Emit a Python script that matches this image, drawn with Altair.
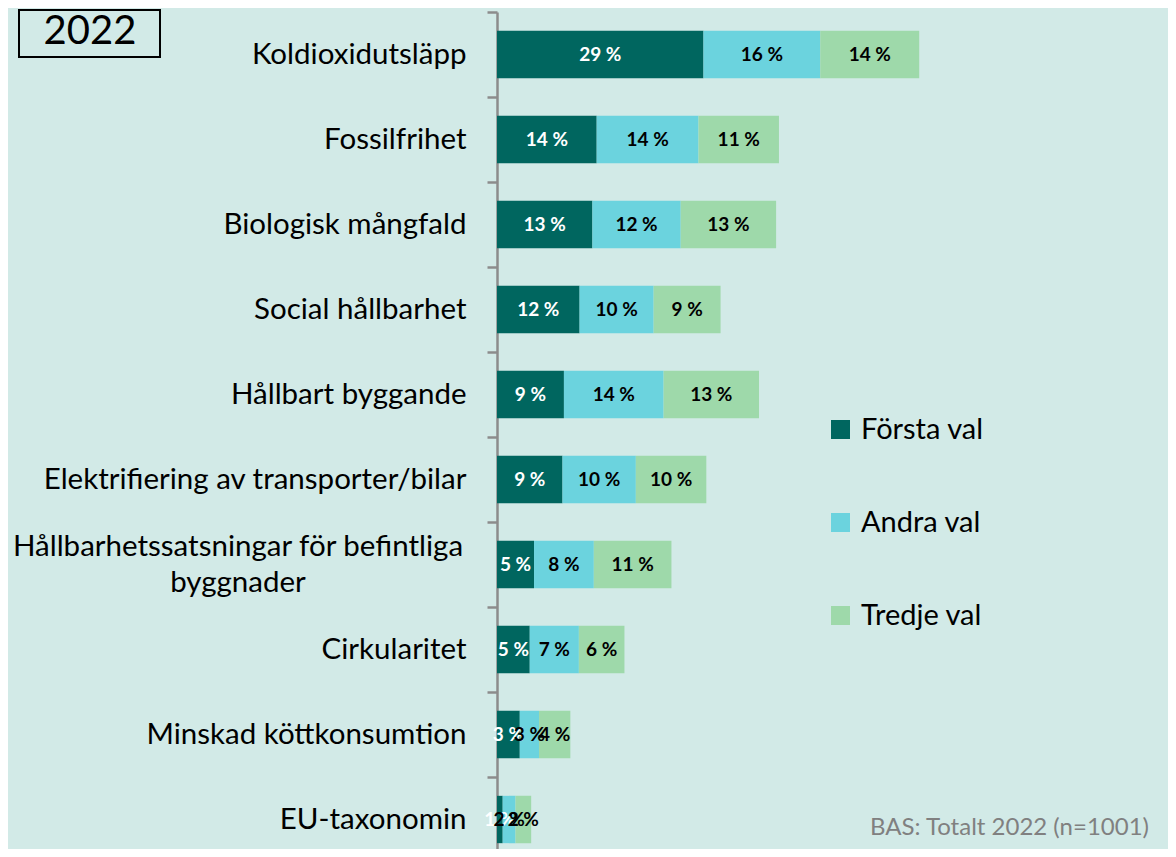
import altair as alt
import pandas as pd

categories = [
    "Koldioxidutsläpp",
    "Fossilfrihet",
    "Biologisk mångfald",
    "Social hållbarhet",
    "Hållbart byggande",
    "Elektrifiering av transporter/bilar",
    "Hållbarhetssatsningar för befintliga\nbyggnader",
    "Cirkularitet",
    "Minskad köttkonsumtion",
    "EU-taxonomin",
]
series = ["Första val", "Andra val", "Tredje val"]
forsta = [29.0, 14.0, 13.4, 11.6, 9.4, 9.2, 5.2, 4.6, 3.2, 0.8]
andra = [16.4, 14.3, 12.4, 10.4, 14.0, 10.3, 8.4, 6.9, 2.7, 1.8]
tredje = [13.9, 11.3, 13.4, 9.4, 13.4, 9.9, 10.9, 6.4, 4.4, 2.2]
colors = ["#00665F", "#6BD3DE", "#9ED9AA"]
footnote = "BAS: Totalt 2022 (n=1001)"
year_label = "2022"

rows = []
for i, cat in enumerate(categories):
    for j, (s, vals) in enumerate(zip(series, [forsta, andra, tredje])):
        rows.append({"category": cat, "series": s, "order": j, "value": vals[i]})
df = pd.DataFrame(rows)

FONT = "Lato"
BG = "#D2EAE7"

yscale = alt.Scale(domain=categories, range=[0, 850], paddingInner=0, paddingOuter=0)

yenc = alt.Y(
    "category:N",
    sort=categories,
    scale=yscale,
    axis=alt.Axis(
        title=None,
        domainColor="#8C8C8C",
        domainWidth=2.5,
        tickColor="#8C8C8C",
        tickWidth=2.5,
        tickSize=10,
        tickBand="extent",
        labelFont=FONT,
        labelFontSize=29.5,
        labelColor="black",
        labelLimit=0,
        labelPadding=21,
        labelExpr="indexof(datum.label, '\\n') >= 0 ? '' : datum.label",
    ),
)

xscale = alt.Scale(domain=[0, 94.24], nice=False, zero=True)

base = alt.Chart(df).transform_stack(
    stack="value", groupby=["category"], as_=["x0", "x1"], sort=[alt.SortField("order")]
).transform_calculate(
    mid="(datum.x0 + datum.x1) / 2",
    label="format(datum.value, '.0f') + ' %'",
)

bars = base.mark_bar(height={"band": 0.557}).encode(
    x=alt.X("x0:Q", scale=xscale, axis=None),
    x2="x1:Q",
    y=yenc,
    color=alt.Color(
        "series:N",
        scale=alt.Scale(domain=series, range=colors),
        legend=alt.Legend(
            title=None,
            orient="none",
            direction="vertical",
            legendX=329,
            legendY=403,
            symbolType="square",
            symbolSize=361,
            symbolStrokeWidth=0,
            symbolOpacity=1,
            labelFont=FONT,
            labelFontSize=29,
            labelColor="black",
            labelOffset=6,
            rowPadding=63,
        ),
    ),
)

texts = base.mark_text(font=FONT, fontSize=19, fontWeight="bold", baseline="middle").encode(
    x=alt.X("mid:Q", scale=xscale),
    y=alt.Y("category:N", sort=categories, scale=yscale),
    text="label:N",
    color=alt.condition("datum.series == 'Första val'", alt.value("white"), alt.value("black")),
)

multi = alt.Chart(pd.DataFrame({"category": [c for c in categories if "\n" in c]})).mark_text(
    font=FONT, fontSize=29.5, color="black", align="center", baseline="middle",
    lineBreak="\n", lineHeight=36, dy=-18,
).encode(
    x=alt.value(-259),
    y=alt.Y("category:N", sort=categories, scale=yscale),
    text="category:N",
)

foot = alt.Chart(pd.DataFrame({"t": [footnote]})).mark_text(
    font=FONT, fontSize=24, color="#808080", align="left", baseline="middle"
).encode(x=alt.value(373), y=alt.value(816), text="t:N")

box = alt.Chart(pd.DataFrame({"t": [year_label]})).mark_rect(
    fill=BG, stroke="black", strokeWidth=2
).encode(x=alt.value(-478), x2=alt.value(-337), y=alt.value(-2), y2=alt.value(45))

year = alt.Chart(pd.DataFrame({"t": [year_label]})).mark_text(
    font=FONT, fontSize=40, color="black", align="center", baseline="middle"
).encode(x=alt.value(-407), y=alt.value(20), text="t:N")

chart = alt.layer(bars, texts, multi, foot, box, year).properties(
    width=671,
    height=837,
    autosize=alt.AutoSizeParams(type="none"),
    padding={"left": 489, "top": 4, "right": 0, "bottom": 0},
    background=BG,
).configure_view(stroke=None)

chart.save("out.html", embed_options={"renderer": "svg", "actions": False})
